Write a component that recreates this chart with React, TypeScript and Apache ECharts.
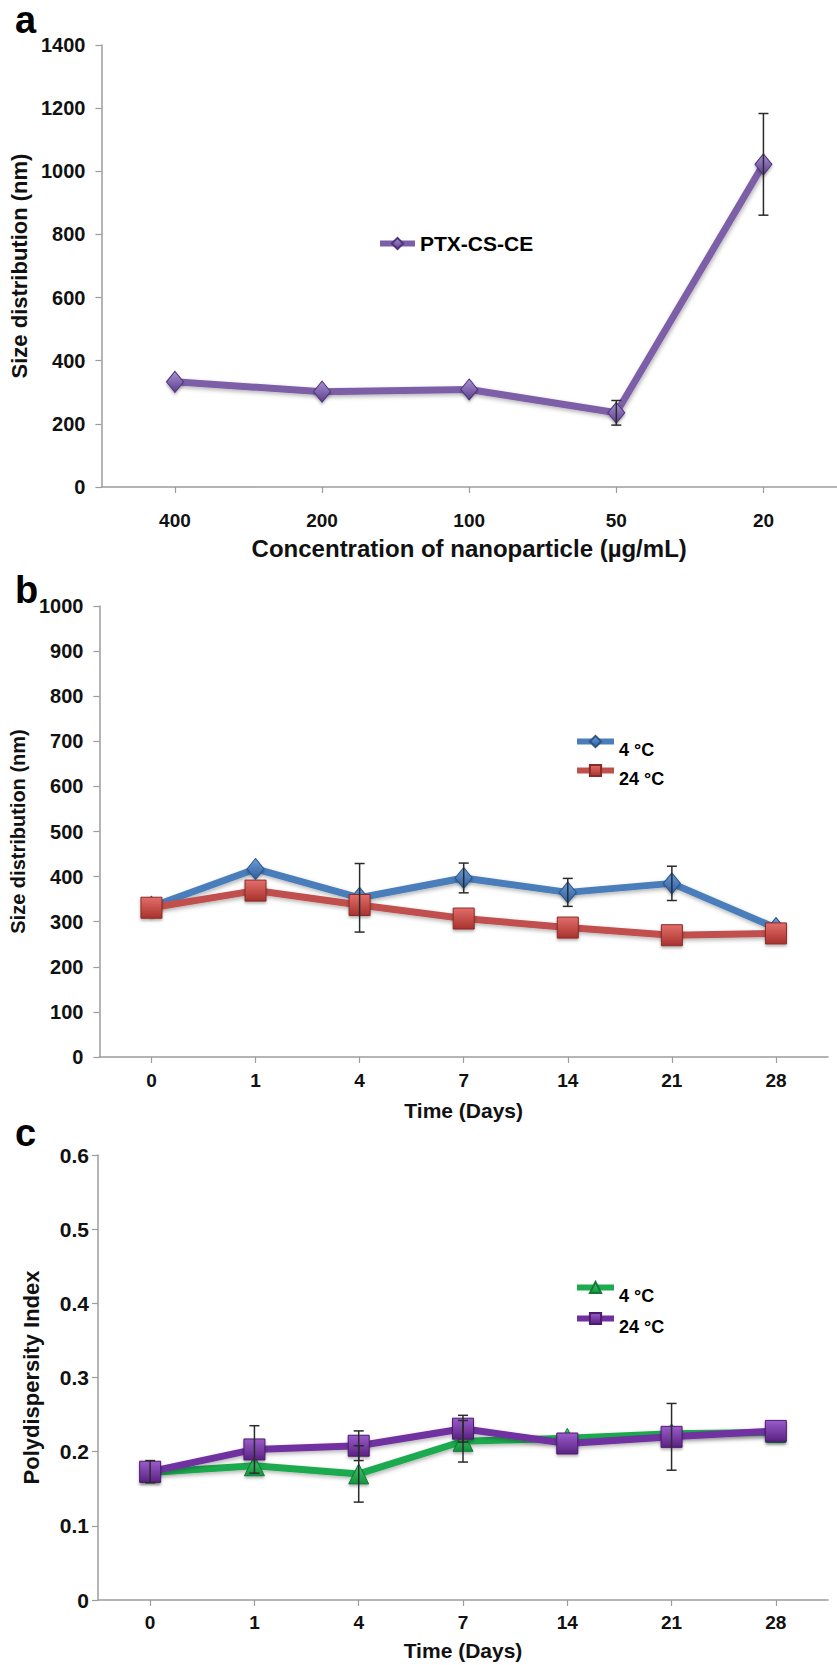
import React, { useEffect, useRef } from "react";
import * as echarts from "echarts";

const FONT = '"Liberation Sans", Arial, Helvetica, sans-serif';

// ---- Panel a ----
const concentrationLabels = ["400", "200", "100", "50", "20"];
const ptxSizeNm = [333, 302, 309, 235, 1022];
const ptxSizeErr = [0, 0, 0, 39, 161];

// ---- Panel b ----
const dayLabels = ["0", "1", "4", "7", "14", "21", "28"];
const size4C = [333, 417, 353, 397, 365, 385, 286];
const size4CErr = [0, 0, 76, 33, 31, 38, 0];
const size24C = [331, 369, 337, 307, 287, 270, 274];
const size24CErr = [0, 0, 0, 0, 0, 0, 0];

// ---- Panel c ----
const pdi4C = [0.172, 0.181, 0.17, 0.214, 0.218, 0.224, 0.226];
const pdi4CErr = [0, 0, 0.038, 0.028, 0, 0, 0];
const pdi24C = [0.173, 0.203, 0.208, 0.231, 0.211, 0.22, 0.228];
const pdi24CErr = [0.015, 0.032, 0.02, 0.018, 0, 0.045, 0];

const legendText: Record<string, string> = {
  "PTX-CS-CE": "PTX-CS-CE",
  b4: "4 °C",
  b24: "24 °C",
  c4: "4 °C",
  c24: "24 °C",
};

const grad = (top: string, bottom: string) =>
  new echarts.graphic.LinearGradient(0, 0, 0, 1, [
    { offset: 0, color: top },
    { offset: 1, color: bottom },
  ]);

const lineSeries = (
  name: string,
  idx: number,
  data: number[],
  color: string,
  symbol: string,
  symbolSize: any,
  top: string,
  bottom: string,
  border: string
) => ({
  type: "line",
  name,
  xAxisIndex: idx,
  yAxisIndex: idx,
  data,
  symbol,
  symbolSize,
  showAllSymbol: true,
  z: 2,
  lineStyle: {
    color,
    width: 7,
    shadowColor: "rgba(0,0,0,0.3)",
    shadowBlur: 4,
    shadowOffsetX: 1,
    shadowOffsetY: 2,
  },
  itemStyle: {
    color: grad(top, bottom),
    borderColor: border,
    borderWidth: 1,
    shadowColor: "rgba(0,0,0,0.3)",
    shadowBlur: 3,
    shadowOffsetY: 2,
  },
});

const errorBars = (idx: number, values: number[], errs: number[]) => ({
  type: "custom",
  xAxisIndex: idx,
  yAxisIndex: idx,
  z: 5,
  silent: true,
  encode: { x: 0, y: [1, 2] },
  data: values
    .map((v, i) => [i, v - errs[i], v + errs[i]])
    .filter((d) => d[2] > d[1]),
  renderItem: (params: any, api: any) => {
    const x = api.value(0);
    const lo = api.coord([x, api.value(1)]);
    const hi = api.coord([x, api.value(2)]);
    const cap = 5;
    const style = { stroke: "#2b2b2b", lineWidth: 1.5 };
    return {
      type: "group",
      children: [
        { type: "line", shape: { x1: lo[0], y1: lo[1], x2: hi[0], y2: hi[1] }, style },
        { type: "line", shape: { x1: hi[0] - cap, y1: hi[1], x2: hi[0] + cap, y2: hi[1] }, style },
        { type: "line", shape: { x1: lo[0] - cap, y1: lo[1], x2: lo[0] + cap, y2: lo[1] }, style },
      ],
    };
  },
});

const axisLine = { show: true, lineStyle: { color: "#9c9c9c", width: 1.5 } };
const axisTick = { show: true, length: 6, lineStyle: { color: "#9c9c9c", width: 1.2 } };
const txt = (size: number) => ({
  fontFamily: FONT,
  fontWeight: "bold" as const,
  fontSize: size,
  color: "#111",
});
const plainNumber = (v: number) => String(parseFloat(Number(v).toFixed(4)));

const xAxisCfg = (idx: number, data: string[], name: string, labelMargin: number, nameGap: number, nameSize: number) => ({
  gridIndex: idx,
  type: "category",
  data,
  boundaryGap: true,
  axisLine,
  axisTick: { ...axisTick, alignWithLabel: true },
  axisLabel: { ...txt(19), margin: labelMargin, interval: 0 },
  splitLine: { show: false },
  name,
  nameLocation: "middle",
  nameGap,
  nameTextStyle: txt(nameSize),
});

const yAxisCfg = (idx: number, min: number, max: number, interval: number, name: string, labelSize: number, labelMargin: number, nameGap: number, nameSize: number) => ({
  gridIndex: idx,
  type: "value",
  min,
  max,
  interval,
  axisLine,
  axisTick,
  axisLabel: { ...txt(labelSize), margin: labelMargin, formatter: plainNumber },
  splitLine: { show: false },
  name,
  nameLocation: "middle",
  nameGap,
  nameTextStyle: txt(nameSize),
});

// shifted=true puts the label text below the legend line (as in panels b and c)
const legendCfg = (name: string, left: number, top: number, size: number, itemWidth: number, lh: number, shifted: boolean) => ({
  data: [name],
  left,
  top,
  padding: 0,
  itemWidth,
  itemHeight: 14,
  lineStyle: { width: 6 },
  formatter: (n: string) => (shifted ? "\n" : "") + (legendText[n] ?? n),
  textStyle: { ...txt(size), color: "#000", lineHeight: lh },
  selectedMode: false,
});

const panelLetter = (text: string, top: number) => ({
  type: "text",
  left: 15,
  top,
  style: { text, font: `bold 38px ${FONT}`, fill: "#000" },
});

export default function App() {
  const ref = useRef<HTMLDivElement>(null);
  useEffect(() => {
    const chart = echarts.init(ref.current!, null, { renderer: "svg" });
    const option: any = {
      animation: false,
      backgroundColor: "#fff",
      grid: [
        { left: 97, top: 45, width: 750, height: 442 },
        { left: 98, top: 606, width: 730, height: 451 },
        { left: 98, top: 1155, width: 730, height: 445 },
      ],
      xAxis: [
        xAxisCfg(0, concentrationLabels, "Concentration of nanoparticle (µg/mL)", 24, 49, 24),
        xAxisCfg(1, dayLabels, "Time (Days)", 14, 43, 21),
        xAxisCfg(2, dayLabels, "Time (Days)", 13, 40, 21),
      ],
      yAxis: [
        yAxisCfg(0, 0, 1400, 200, "Size distribution (nm)", 20, 16, 63, 22),
        yAxisCfg(1, 0, 1000, 100, "Size distribution (nm)", 20, 16, 63, 20),
        yAxisCfg(2, 0, 0.6, 0.1, "Polydispersity Index", 21, 9, 56, 22),
      ],
      legend: [
        legendCfg("PTX-CS-CE", 377, 233, 21, 35, 21, false),
        legendCfg("b4", 574, 724, 18, 37, 17, true),
        legendCfg("b24", 574, 753, 18, 37, 17, true),
        legendCfg("c4", 574, 1270, 18, 37, 17, true),
        legendCfg("c24", 574, 1301, 18, 37, 17, true),
      ],
      graphic: [panelLetter("a", 1), panelLetter("b", 571), panelLetter("c", 1114)],
      series: [
        lineSeries("PTX-CS-CE", 0, ptxSizeNm, "#7D5FA8", "diamond", [17, 21], "#A992D4", "#5C3E8C", "#4E3478"),
        errorBars(0, ptxSizeNm, ptxSizeErr),
        lineSeries("b4", 1, size4C, "#4A7EBB", "diamond", [17, 21], "#6C9CD8", "#2E5E9C", "#2A5587"),
        lineSeries("b24", 1, size24C, "#C0504D", "rect", 21, "#E36E6A", "#A8322E", "#8A2A27"),
        errorBars(1, size4C, size4CErr),
        errorBars(1, size24C, size24CErr),
        lineSeries("c4", 2, pdi4C, "#1DAA50", "triangle", 20, "#44CC70", "#14923E", "#117A34"),
        lineSeries("c24", 2, pdi24C, "#7030A0", "rect", 21, "#9A5CCB", "#5A2282", "#4A1C6C"),
        errorBars(2, pdi4C, pdi4CErr),
        errorBars(2, pdi24C, pdi24CErr),
      ],
    };
    chart.setOption(option);
    return () => chart.dispose();
  }, []);
  return (
    <div
      ref={ref}
      style={{ position: "absolute", left: 0, top: 0, width: 837, height: 1665, background: "#fff" }}
    />
  );
}
